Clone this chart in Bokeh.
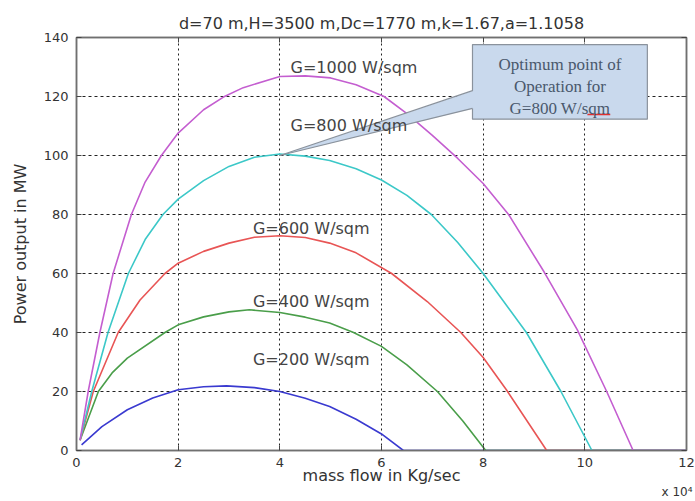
from bokeh.plotting import figure
from bokeh.models import Label, LinearAxis, FixedTicker, Range1d
from bokeh.embed import file_html
from bokeh.resources import INLINE

# ---------------- data ----------------
x_ticks = [0, 2, 4, 6, 8, 10, 12]
y_ticks = [0, 20, 40, 60, 80, 100, 120, 140]

g200_x = [0.1, 0.5, 1.0, 1.5, 2.0, 2.5, 2.95, 3.5, 4.0, 4.5, 4.98, 5.5, 6.0, 6.43, 12.0]
g200_y = [1.9, 8.1, 13.8, 17.8, 20.6, 21.6, 21.9, 21.3, 20.0, 17.7, 14.9, 10.6, 5.6, 0.0, 0.0]

g400_x = [0.07, 0.43, 0.7, 1.0, 1.74, 2.0, 2.5, 3.0, 3.4, 4.0, 4.5, 4.98, 5.45, 6.0, 6.5, 7.1, 7.6, 8.05, 12.0]
g400_y = [3.5, 20.0, 26.3, 31.3, 40.0, 42.6, 45.3, 47.0, 47.7, 46.8, 45.2, 43.2, 40.0, 35.3, 29.0, 20.0, 10.0, 0.0, 0.0]

g600_x = [0.07, 0.33, 0.82, 1.25, 1.74, 2.0, 2.5, 3.0, 3.5, 4.0, 4.5, 4.98, 5.5, 6.2, 6.9, 7.56, 8.0, 8.46, 9.25, 12.0]
g600_y = [3.5, 20.0, 40.0, 51.0, 60.0, 63.5, 67.5, 70.3, 72.3, 72.8, 72.2, 70.3, 67.0, 60.0, 50.5, 40.0, 31.5, 20.5, 0.0, 0.0]

g800_x = [0.07, 0.3, 0.62, 1.02, 1.35, 1.7, 2.0, 2.5, 3.0, 3.5, 4.0, 4.5, 4.98, 5.5, 6.0, 6.5, 6.98, 7.5, 8.0, 8.85, 9.53, 10.14, 12.0]
g800_y = [3.5, 20.0, 40.0, 60.0, 71.5, 80.0, 85.2, 91.5, 96.3, 99.4, 100.5, 99.8, 98.3, 95.5, 91.7, 86.5, 80.0, 70.5, 60.0, 40.0, 20.0, 0.0, 0.0]

g1000_x = [0.07, 0.23, 0.46, 0.72, 1.08, 1.35, 1.67, 2.0, 2.5, 2.89, 3.28, 4.0, 4.5, 5.0, 5.5, 6.05, 6.5, 7.0, 7.5, 8.0, 8.5, 9.2, 9.85, 10.43, 10.95, 12.0]
g1000_y = [3.5, 20.0, 40.0, 60.0, 80.0, 91.0, 100.0, 107.6, 115.5, 119.8, 123.0, 126.8, 127.0, 126.3, 124.0, 120.0, 114.2, 106.8, 99.0, 90.5, 80.0, 60.5, 41.0, 20.0, 0.0, 0.0]

series_names = ["G=200 W/sqm", "G=400 W/sqm", "G=600 W/sqm", "G=800 W/sqm", "G=1000 W/sqm"]

opt_x = 4.0    # optimum point for G=800
opt_y = 100.0

title_text = "d=70 m,H=3500 m,Dc=1770 m,k=1.67,a=1.1058"
x_label = "mass flow in Kg/sec"
y_label = "Power output in MW"
x_scale_note = "x 10\u2074"
callout_lines = ["Optimum point of", "Operation for", "G=800 W/sqm"]

# ---------------- styles ----------------
colors = ["#3a3ad0", "#4a9e4a", "#e85555", "#3cc8c8", "#c45ed0"]
label_pos = [(3.47, 30.8), (3.47, 50.5), (3.47, 75.4), (4.21, 110.2), (4.21, 130.0)]
SANS = "DejaVu Sans"
TXT = "#333333"

p = figure(width=695, height=501, output_backend="svg", toolbar_location=None,
           x_range=Range1d(0, 12), y_range=Range1d(0, 140),
           min_border_left=76, min_border_right=9, min_border_top=37, min_border_bottom=51)
p.background_fill_color = "white"
p.border_fill_color = "white"
p.outline_line_color = "#707070"
p.outline_line_width = 1.5

p.title.text = title_text
p.title.align = "center"
p.title.text_font = SANS
p.title.text_font_size = "16px"
p.title.text_font_style = "normal"
p.title.text_color = TXT
p.title.standoff = 10

for ax, ticks in ((p.xaxis[0], x_ticks), (p.yaxis[0], y_ticks)):
    ax.ticker = FixedTicker(ticks=ticks)
    ax.minor_tick_line_color = None
    ax.major_tick_in = 5
    ax.major_tick_out = 0
    ax.major_tick_line_color = "#444444"
    ax.axis_line_color = "#707070"
    ax.axis_line_width = 1.5
    ax.major_label_text_font = SANS
    ax.major_label_text_font_size = "13px"
    ax.major_label_text_color = TXT
    ax.axis_label_text_font = SANS
    ax.axis_label_text_font_size = "16px"
    ax.axis_label_text_font_style = "normal"
    ax.axis_label_text_color = TXT
p.xaxis.major_label_standoff = 7
p.yaxis.major_label_standoff = 8
p.xaxis.axis_label = x_label
p.yaxis.axis_label = y_label
p.xaxis.axis_label_standoff = -4
p.yaxis.axis_label_standoff = 11

for loc, ticks in (("above", x_ticks), ("right", y_ticks)):
    ax = LinearAxis(ticker=FixedTicker(ticks=ticks),
                    major_label_overrides={t: "" for t in ticks},
                    major_tick_in=5, major_tick_out=0, minor_tick_line_color=None,
                    axis_line_color="#707070", axis_line_width=1.5,
                    major_tick_line_color="#444444", major_label_standoff=0)
    p.add_layout(ax, loc)

p.xgrid.ticker = FixedTicker(ticks=x_ticks[1:-1])
p.ygrid.ticker = FixedTicker(ticks=y_ticks[1:-1])
p.xgrid.grid_line_color = "#222222"
p.xgrid.grid_line_dash = "2 3"
p.ygrid.grid_line_color = "#222222"
p.ygrid.grid_line_dash = "3 3"

xs = [g200_x, g400_x, g600_x, g800_x, g1000_x]
ys = [g200_y, g400_y, g600_y, g800_y, g1000_y]
for xx, yy, c in zip(xs, ys, colors):
    p.line(xx, yy, line_color=c, line_width=1.6, line_join="round")

for name, (lx, ly) in zip(series_names, label_pos):
    p.add_layout(Label(x=lx, y=ly, text=name, text_font=SANS, text_font_size="16px",
                       text_color="#444444", text_baseline="middle", text_align="left"))

# callout box with pointer
box_l, box_r, box_t, box_b = 7.79, 11.23, 137.6, 112.3
wedge_hi, wedge_lo = 122.0, 116.0
box_fill = "#c9d9ed"
edge = "#8a929c"
p.quad(left=[box_l], right=[box_r], top=[box_t], bottom=[box_b],
       fill_color=box_fill, line_color=edge, line_width=1.2)
p.patch([opt_x, box_l + 0.03, box_l + 0.03], [opt_y, wedge_hi, wedge_lo],
        fill_color=box_fill, line_color=None)
p.line([opt_x, box_l], [opt_y, wedge_hi], line_color=edge, line_width=1.2)
p.line([opt_x, box_l], [opt_y, wedge_lo], line_color=edge, line_width=1.2)
cx = (box_l + box_r) / 2
for i, t in enumerate(callout_lines):
    p.add_layout(Label(x=cx, y=130.8 - i * 7.45, text=t, text_font="Liberation Serif",
                       text_font_size="17px", text_color="#4a586c",
                       text_align="center", text_baseline="middle"))
p.line([10.05, 10.5], [113.9, 113.9], line_color="#e03030", line_width=1.3)

p.add_layout(Label(x=616, y=10, x_units="screen", y_units="screen", text=x_scale_note,
                   text_font=SANS, text_font_size="12px", text_color=TXT,
                   text_align="right", text_baseline="middle"), "below")

open("out.html", "w").write(file_html(p, INLINE))
